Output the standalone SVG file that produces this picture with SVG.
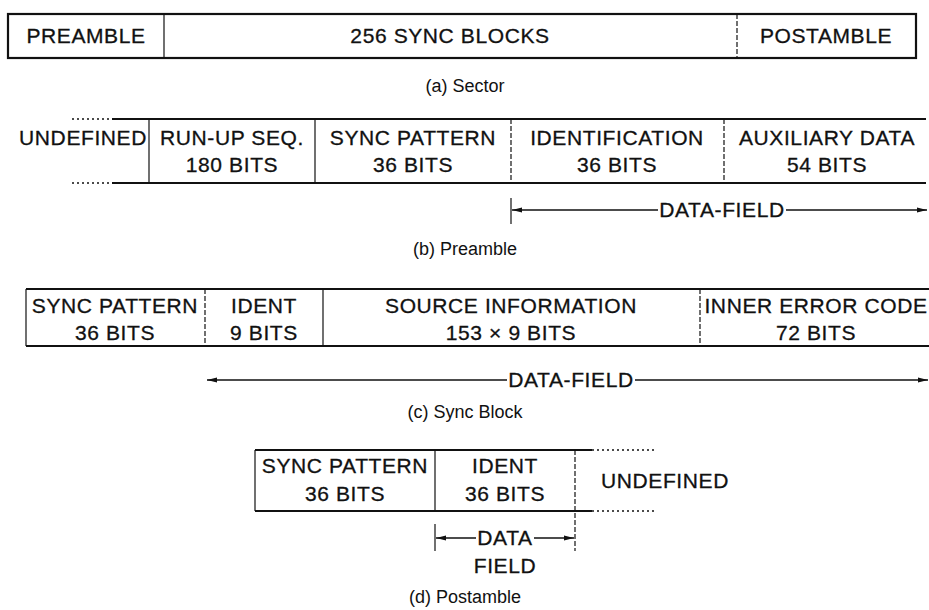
<svg xmlns="http://www.w3.org/2000/svg" width="929" height="610" viewBox="0 0 929 610">
<defs>
<style>
.t{font-family:"Liberation Sans",Arial,sans-serif;font-size:21px;letter-spacing:0.6px;fill:#111;stroke:#111;stroke-width:0.3;text-anchor:middle}
.cap{font-family:"Liberation Sans",Arial,sans-serif;font-size:18px;fill:#111;text-anchor:middle}
.frame{stroke:#111;stroke-width:2.2;fill:none}
.div{stroke:#111;stroke-width:1.2;fill:none}
.dash{stroke:#111;stroke-width:1.2;fill:none;stroke-dasharray:5 2}
.dot{stroke:#111;stroke-width:1.6;fill:none;stroke-dasharray:2 3}
.arr{stroke:#111;stroke-width:1.3;fill:none}
</style>
<marker id="ah" viewBox="0 0 10 6" refX="10" refY="3" markerWidth="10" markerHeight="6" markerUnits="userSpaceOnUse" orient="auto-start-reverse">
<path d="M0,0.5 L10,3 L0,5.5 Z" fill="#111"/>
</marker>
</defs>
<rect width="929" height="610" fill="#fff"/>

<!-- (a) Sector -->
<g id="sector">
<rect class="frame" x="8" y="14" width="908" height="44"/>
<g id="a-preamble"><text class="t" x="86" y="43">PREAMBLE</text></g>
<line class="div" x1="164" y1="14" x2="164" y2="58"/>
<g id="a-sync"><text class="t" x="450" y="43">256 SYNC BLOCKS</text></g>
<line class="dash" x1="737" y1="14" x2="737" y2="58"/>
<g id="a-postamble"><text class="t" x="826" y="43">POSTAMBLE</text></g>
<text class="cap" x="465" y="92">(a) Sector</text>
</g>

<!-- (b) Preamble -->
<g id="preamble">
<line class="dot" x1="72" y1="119" x2="112" y2="119"/>
<line class="dot" x1="72" y1="183" x2="112" y2="183"/>
<line class="frame" x1="112" y1="119" x2="926" y2="119"/>
<line class="frame" x1="112" y1="183" x2="926" y2="183"/>
<g id="b-undefined"><text class="t" x="147" y="145" style="text-anchor:end">UNDEFINED</text></g>
<line class="div" x1="149" y1="119" x2="149" y2="183"/>
<g id="b-runup"><text class="t" x="232" y="145">RUN-UP SEQ.</text><text class="t" x="232" y="172">180 BITS</text></g>
<line class="div" x1="315" y1="119" x2="315" y2="183"/>
<g id="b-sync"><text class="t" x="413" y="145">SYNC PATTERN</text><text class="t" x="413" y="172">36 BITS</text></g>
<line class="dash" x1="511" y1="119" x2="511" y2="183"/>
<g id="b-ident"><text class="t" x="617" y="145">IDENTIFICATION</text><text class="t" x="617" y="172">36 BITS</text></g>
<line class="dash" x1="724" y1="119" x2="724" y2="183"/>
<g id="b-aux"><text class="t" x="827" y="145">AUXILIARY DATA</text><text class="t" x="827" y="172">54 BITS</text></g>
<text class="cap" x="465" y="255">(b) Preamble</text>
</g>

<!-- (c) Sync Block -->
<g id="syncblock">
<line class="frame" x1="26" y1="289" x2="929" y2="289"/>
<line class="frame" x1="26" y1="346" x2="929" y2="346"/>
<line class="div" x1="26" y1="289" x2="26" y2="346"/>
<g id="c-sync"><text class="t" x="115" y="313">SYNC PATTERN</text><text class="t" x="115" y="340">36 BITS</text></g>
<line class="dash" x1="205" y1="289" x2="205" y2="346"/>
<g id="c-ident"><text class="t" x="264" y="313">IDENT</text><text class="t" x="264" y="340">9 BITS</text></g>
<line class="div" x1="323" y1="289" x2="323" y2="346"/>
<g id="c-source"><text class="t" x="511" y="313">SOURCE INFORMATION</text><text class="t" x="511" y="340">153 × 9 BITS</text></g>
<line class="dash" x1="700" y1="289" x2="700" y2="346"/>
<g id="c-inner"><text class="t" x="816" y="313">INNER ERROR CODE</text><text class="t" x="816" y="340">72 BITS</text></g>
<text class="cap" x="465" y="418">(c) Sync Block</text>
</g>

<!-- (d) Postamble -->
<g id="postamble">
<line class="frame" x1="255" y1="450" x2="592" y2="450"/>
<line class="frame" x1="255" y1="511" x2="592" y2="511"/>
<line class="dot" x1="592" y1="450" x2="655" y2="450"/>
<line class="dot" x1="592" y1="511" x2="655" y2="511"/>
<line class="div" x1="255" y1="450" x2="255" y2="511"/>
<g id="d-sync"><text class="t" x="345" y="473">SYNC PATTERN</text><text class="t" x="345" y="501">36 BITS</text></g>
<line class="div" x1="435" y1="450" x2="435" y2="511"/>
<g id="d-ident"><text class="t" x="505" y="473">IDENT</text><text class="t" x="505" y="501">36 BITS</text></g>
<line class="dash" x1="575" y1="450" x2="575" y2="551"/>
<g id="d-undefined"><text class="t" x="601" y="488" style="text-anchor:start">UNDEFINED</text></g>
<text class="cap" x="465" y="603">(d) Postamble</text>
</g>

<!-- connectors: data-field dimension arrows -->
<g id="connectors">
<line class="div" x1="511" y1="198" x2="511" y2="224"/>
<line class="arr" x1="512" y1="210" x2="658" y2="210" marker-start="url(#ah)"/>
<line class="arr" x1="786" y1="210" x2="927" y2="210" marker-end="url(#ah)"/>
<text class="t" x="722" y="217">DATA-FIELD</text>

<line class="arr" x1="207" y1="380" x2="507" y2="380" marker-start="url(#ah)"/>
<line class="arr" x1="635" y1="380" x2="928" y2="380" marker-end="url(#ah)"/>
<text class="t" x="571" y="387">DATA-FIELD</text>

<line class="div" x1="435" y1="524" x2="435" y2="551"/>
<line class="arr" x1="436" y1="538" x2="476" y2="538" marker-start="url(#ah)"/>
<line class="arr" x1="534" y1="538" x2="574" y2="538" marker-end="url(#ah)"/>
<text class="t" x="505" y="545">DATA</text>
<text class="t" x="505" y="573">FIELD</text>
</g>
</svg>
